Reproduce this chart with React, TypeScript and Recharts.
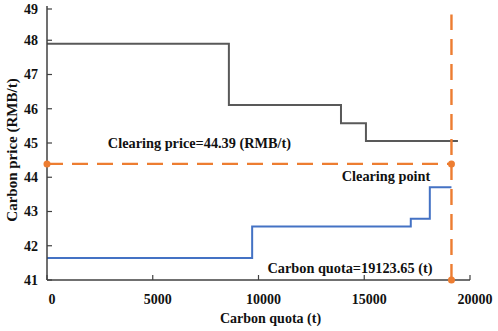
import {
  ComposedChart,
  Line,
  Scatter,
  XAxis,
  YAxis,
  ReferenceDot,
} from 'recharts';

// seller (gray) and buyer (blue) step curves
const sellQuota = [0, 8600, 13900, 15080, 19430];
const sellPrice = [47.9, 46.11, 45.58, 45.06, 45.06];
const buyQuota = [0, 9700, 17200, 18100, 19123.65];
const buyPrice = [41.64, 42.56, 42.79, 43.71, 43.71];

const clearQuota = 19123.65;
const clearPrice = 44.39;

const xTicks = [0, 5000, 10000, 15000, 20000];
const yTicks = [41, 42, 43, 44, 45, 46, 47, 48, 49];

const sellData = sellQuota.map((x, i) => ({ x, y: sellPrice[i] }));
const buyData = buyQuota.map((x, i) => ({ x, y: buyPrice[i] }));
const priceLine = [
  { x: 0, y: clearPrice },
  { x: clearQuota, y: clearPrice },
];
const quotaLine = [
  { x: clearQuota, y: 41 },
  { x: clearQuota, y: 48.75 },
];
const clearDots = [
  { x: 0, y: clearPrice },
  { x: clearQuota, y: clearPrice },
  { x: clearQuota, y: 41 },
];

const FONT = '"Liberation Serif", "Times New Roman", serif';
const ORANGE = '#ED7D31';
const AXIS = '#404040';

function XTick({ x, y, payload }: any) {
  return (
    <g>
      <line x1={x} x2={x} y1={y} y2={y - 5} stroke={AXIS} strokeWidth={1.2} />
      <text x={x + 5} y={y + 24} textAnchor="middle" fontFamily={FONT} fontWeight="bold" fontSize={14} fill="#111">
        {payload.value}
      </text>
    </g>
  );
}

function YTick({ x, y, payload }: any) {
  return (
    <g>
      <line x1={x + 9} x2={x + 14} y1={y} y2={y} stroke={AXIS} strokeWidth={1.2} />
      <text x={x} y={y} dy="0.35em" textAnchor="end" fontFamily={FONT} fontWeight="bold" fontSize={14} fill="#111">
        {payload.value}
      </text>
    </g>
  );
}

function YLabel({ viewBox }: any) {
  const cx = viewBox.x + 17;
  const cy = viewBox.y + viewBox.height / 2 + 7;
  return (
    <text
      x={cx}
      y={cy}
      transform={`rotate(-90, ${cx}, ${cy})`}
      textAnchor="middle"
      fontFamily={FONT}
      fontWeight="bold"
      fontSize={15}
      fill="#111"
    >
      Carbon price (RMB/t)
    </text>
  );
}

const noteStyle = { fontFamily: FONT, fontWeight: 'bold', fontSize: 14.3, fill: '#111' };

export default function App() {
  return (
    <div style={{ position: 'absolute', left: 0, top: 0, background: '#fff' }}>
      <ComposedChart
        width={498}
        height={331}
        margin={{ top: 6, right: 28, left: 0, bottom: 0 }}
      >
        <XAxis
          type="number"
          dataKey="x"
          domain={[0, 20000]}
          ticks={xTicks}
          height={51}
          stroke={AXIS}
          strokeWidth={1.5}
          tickLine={false}
          tickSize={0}
          tickMargin={0}
          tick={<XTick />}
          label={{
            value: 'Carbon quota (t)',
            position: 'insideBottom',
            offset: 8,
            dx: 12,
            style: { ...noteStyle, fontSize: 14 },
          }}
        />
        <YAxis
          type="number"
          domain={[41, 49]}
          ticks={yTicks}
          width={47}
          stroke={AXIS}
          strokeWidth={1.5}
          tickLine={false}
          tickSize={0}
          tickMargin={9}
          tick={<YTick />}
          label={{ content: <YLabel /> }}
        />
        <Line
          data={sellData}
          dataKey="y"
          type="stepAfter"
          stroke="#595959"
          strokeWidth={2}
          dot={false}
          isAnimationActive={false}
        />
        <Line
          data={buyData}
          dataKey="y"
          type="stepAfter"
          stroke="#4472C4"
          strokeWidth={2}
          dot={false}
          isAnimationActive={false}
        />
        <Line
          data={priceLine}
          dataKey="y"
          stroke={ORANGE}
          strokeWidth={2.4}
          strokeDasharray="16 9"
          dot={false}
          isAnimationActive={false}
        />
        <Line
          data={quotaLine}
          dataKey="y"
          stroke={ORANGE}
          strokeWidth={2.4}
          strokeDasharray="16 9"
          dot={false}
          isAnimationActive={false}
        />
        <Scatter
          data={clearDots}
          dataKey="y"
          fill={ORANGE}
          shape={(p: any) => <circle cx={p.cx} cy={p.cy} r={3.5} fill={ORANGE} />}
          isAnimationActive={false}
        />
        <ReferenceDot
          x={7210}
          y={45.0}
          r={0}
          stroke="none"
          label={{ value: 'Clearing price=44.39 (RMB/t)', position: 'center', style: noteStyle }}
        />
        <ReferenceDot
          x={16030}
          y={44.04}
          r={0}
          stroke="none"
          label={{ value: 'Clearing point', position: 'center', style: noteStyle }}
        />
        <ReferenceDot
          x={14326}
          y={41.35}
          r={0}
          stroke="none"
          label={{ value: 'Carbon quota=19123.65 (t)', position: 'center', style: noteStyle }}
        />
      </ComposedChart>
    </div>
  );
}
